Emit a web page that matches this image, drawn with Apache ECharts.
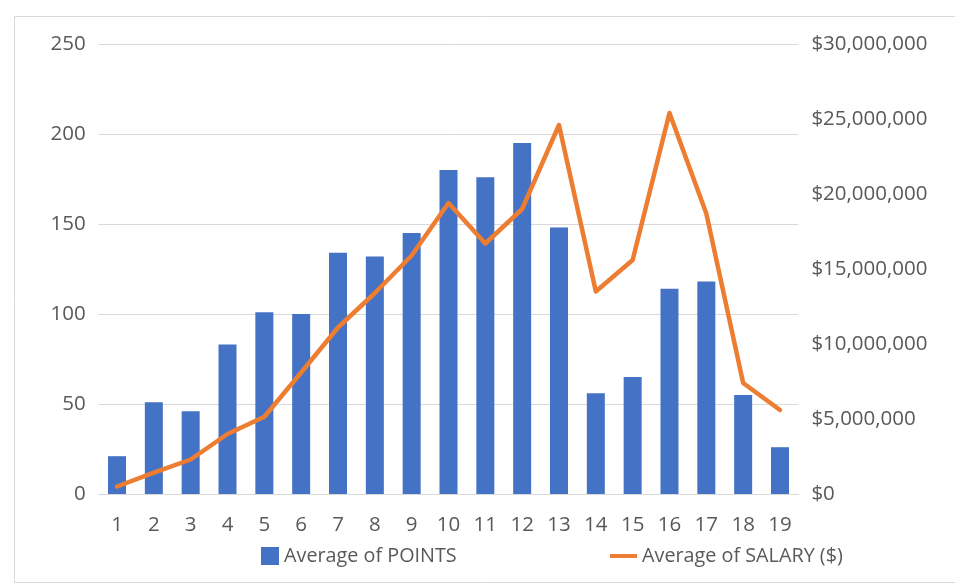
<!DOCTYPE html>
<html>
<head>
<meta charset="utf-8">
<script src="https://cdn.jsdelivr.net/npm/echarts@6/dist/echarts.min.js"></script>
<style>
  html, body { margin: 0; padding: 0; background: #ffffff; }
  #chart { width: 955px; height: 584px; }
</style>
</head>
<body>
<div id="chart"></div>
<script>
// Categories along the x axis
const categories = ['1','2','3','4','5','6','7','8','9','10','11','12','13','14','15','16','17','18','19'];

// Average points per category (left axis)
const avgPoints = [21, 51, 46, 83, 101, 100, 134, 132, 145, 180, 176, 195, 148, 56, 65, 114, 118, 55, 26];

// Average salary per category in dollars (right axis)
const avgSalary = [500000, 1420000, 2300000, 4000000, 5150000, 8100000, 11100000, 13400000, 15900000, 19400000,
                   16700000, 19000000, 24600000, 13500000, 15600000, 25400000, 18700000, 7400000, 5600000];

const pointsName = 'Average of POINTS';
const salaryName = 'Average of SALARY ($)';

const textColor = '#595959';
const fontFamily = '"Open Sans", "Noto Sans", sans-serif';
const axisFont = 20.5;
const legendFont = 19.8;

const chart = echarts.init(document.getElementById('chart'), null, { renderer: 'canvas' });

function money(v) {
  return '$' + v.toLocaleString('en-US');
}

chart.setOption({
  animation: false,
  backgroundColor: '#ffffff',
  textStyle: { fontFamily: fontFamily, color: textColor },
  graphic: [{
    type: 'rect',
    left: 12, top: 14,
    shape: { width: 960, height: 566 },
    style: { fill: 'none', stroke: '#d9d9d9', lineWidth: 1 },
    silent: true
  }],
  grid: { left: 98.6, right: 156.6, top: 44, bottom: 90, containLabel: false },
  legend: [{
    data: [{ name: pointsName, icon: 'rect' }],
    left: 261, top: 546, padding: 0,
    itemWidth: 18, itemHeight: 18, itemGap: 5,
    textStyle: { color: textColor, fontSize: legendFont, fontFamily: fontFamily, padding: [0, 0, 0, 0] }
  }, {
    data: [{ name: salaryName, icon: 'path://M0,0 L27,0 L27,4 L0,4 Z' }],
    left: 610, top: 546, padding: 0,
    itemWidth: 27, itemHeight: 18, itemGap: 5,
    textStyle: { color: textColor, fontSize: legendFont, fontFamily: fontFamily, padding: [0, 0, 0, 0] }
  }],
  xAxis: {
    type: 'category',
    data: categories,
    axisLine: { show: true, lineStyle: { color: '#d9d9d9', width: 1 } },
    axisTick: { show: false },
    axisLabel: { color: textColor, fontSize: axisFont, margin: 21, fontFamily: fontFamily }
  },
  yAxis: [{
    type: 'value',
    min: 0, max: 250, interval: 50,
    axisLine: { show: false },
    axisTick: { show: false },
    splitLine: { lineStyle: { color: '#d9d9d9', width: 1 } },
    axisLabel: { color: textColor, fontSize: axisFont, margin: 13, fontFamily: fontFamily, align: 'right' }
  }, {
    type: 'value',
    min: 0, max: 30000000, interval: 5000000,
    position: 'right',
    axisLine: { show: false },
    axisTick: { show: false },
    splitLine: { show: false },
    axisLabel: { color: textColor, fontSize: axisFont, margin: 13, fontFamily: fontFamily, formatter: money }
  }],
  series: [{
    name: pointsName,
    type: 'bar',
    yAxisIndex: 0,
    data: avgPoints,
    barWidth: 18,
    itemStyle: { color: '#4472c4' }
  }, {
    name: salaryName,
    type: 'line',
    yAxisIndex: 1,
    data: avgSalary,
    symbol: 'none',
    lineStyle: { color: '#ed7d31', width: 4.5, join: 'round', cap: 'round' },
    itemStyle: { color: '#ed7d31' }
  }]
});
</script>
</body>
</html>
